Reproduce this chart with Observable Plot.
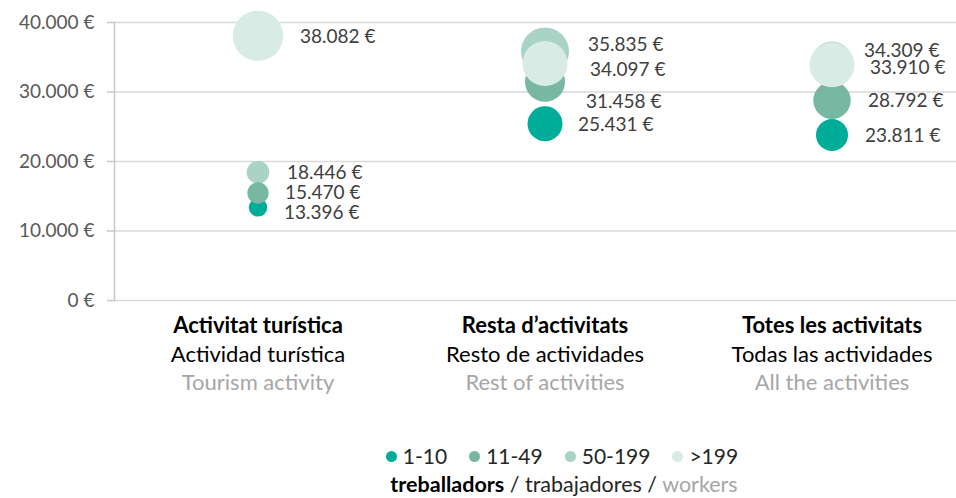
<!DOCTYPE html>
<html><head><meta charset="utf-8">
<script src="https://cdn.jsdelivr.net/npm/d3@7"></script>
<script src="https://cdn.jsdelivr.net/npm/@observablehq/plot@0.6"></script>
<style>
body{margin:0;background:#fff;font-family:Lato,"Open Sans",sans-serif;}
#chart svg{display:block;}
#legend{position:relative;height:58px;width:956px;}
#legend .row1{position:absolute;top:3px;left:0;width:956px;display:flex;justify-content:center;padding-left:190px;box-sizing:border-box;font-size:21px;color:#262626;line-height:26px;}
#legend .item{display:flex;align-items:center;margin-right:22px;}
#legend .sw{width:11px;height:11px;border-radius:50%;margin-right:6px;display:inline-block;}
#legend .row2{position:absolute;top:31px;left:0;width:956px;text-align:center;padding-left:172px;box-sizing:border-box;font-size:21.5px;color:#262626;line-height:26px;}
</style></head><body>
<div id="chart"></div>
<div id="legend"></div>
<script>
// ---- data ----
const categoriesCa = ["Activitat turística", "Resta d’activitats", "Totes les activitats"];
const categoriesEs = ["Actividad turística", "Resto de actividades", "Todas las actividades"];
const categoriesEn = ["Tourism activity", "Rest of activities", "All the activities"];
const sizeGroups = ["1-10", "11-49", "50-199", ">199"];
const salary_1_10     = [13396, 25431, 23811];
const salary_11_49    = [15470, 31458, 28792];
const salary_50_199   = [18446, 35835, 34309];
const salary_over199  = [38082, 34097, 33910];
// bubble size (third variable of the bubble chart, area units)
const bubble_1_10     = [85, 306, 256];
const bubble_11_49    = [114, 400, 350];
const bubble_50_199   = [128, 576, 420];
const bubble_over199  = [635, 506, 506];
const yTicks = [0, 10000, 20000, 30000, 40000];
const legendTitle = ["treballadors", "trabajadores", "workers"];

// ---- styling / layout ----
const colors = ["#00ad99", "#78b7a1", "#a9d3c5", "#d9ebe5"];
const drawOrder = ["1-10", "50-199", "11-49", ">199"];
const labelNudge = {
  "1-10":   [[26, 6], [33, 1], [33, 1]],
  "11-49":  [[27, 0], [41, 20], [36, 1]],
  "50-199": [[29, 1], [43, -7], [32, -11]],
  ">199":   [[42, 1], [45, 6], [38, 3]]
};

const salaries = [salary_1_10, salary_11_49, salary_50_199, salary_over199];
const bubbles = [bubble_1_10, bubble_11_49, bubble_50_199, bubble_over199];
const rows = [];
sizeGroups.forEach((g, gi) => {
  categoriesCa.forEach((c, ci) => {
    rows.push({cat: c, group: g, value: salaries[gi][ci], size: bubbles[gi][ci],
      dx: labelNudge[g][ci][0], dy: labelNudge[g][ci][1]});
  });
});
rows.sort((a, b) => drawOrder.indexOf(a.group) - drawOrder.indexOf(b.group));

const fmt = v => d3.format(",")(v).replace(/,/g, ".") + " €";

const chart = Plot.plot({
  width: 956,
  height: 440,
  marginLeft: 114,
  marginRight: 0,
  marginTop: 22,
  marginBottom: 140,
  style: {fontFamily: "Lato, 'Open Sans', sans-serif", background: "#fff"},
  x: {type: "band", domain: categoriesCa, range: [113.5, 974.5], padding: 0, axis: null},
  y: {domain: [0, 40000], axis: null},
  r: {type: "sqrt", domain: [0, 635], range: [0, 25.2]},
  color: {domain: sizeGroups, range: colors},
  marks: [
    Plot.gridY(yTicks, {stroke: "#d9d9d9", strokeOpacity: 1, strokeWidth: 1.5}),
    Plot.frame({anchor: "left", stroke: "#c8c8c8", strokeWidth: 1.5}),
    Plot.axisY(yTicks, {tickSize: 7, tickPadding: 13, stroke: "#c8c8c8", strokeWidth: 1.5,
      tickFormat: fmt, fontSize: 19, fill: "#595959", label: null}),
    Plot.dot(rows, {x: "cat", y: "value", r: "size", fill: "group", stroke: null, sort: null}),
    ...rows.map(d => Plot.text([d], {x: "cat", y: "value", text: d => fmt(d.value),
      dx: d.dx, dy: d.dy, textAnchor: "start", fontSize: 19, fill: "#404040"})),
    Plot.text(categoriesCa, {x: d => d, frameAnchor: "bottom", dy: 25, text: d => d,
      fontSize: 22, fontWeight: "bold", fill: "#000", lineAnchor: "middle"}),
    Plot.text(categoriesCa, {x: d => d, frameAnchor: "bottom", dy: 54,
      text: (d, i) => categoriesEs[i], fontSize: 22, fill: "#000", lineAnchor: "middle"}),
    Plot.text(categoriesCa, {x: d => d, frameAnchor: "bottom", dy: 82,
      text: (d, i) => categoriesEn[i], fontSize: 22, fill: "#a6a6a6", lineAnchor: "middle"})
  ]
});
document.getElementById("chart").appendChild(chart);

const leg = document.getElementById("legend");
const r1 = document.createElement("div");
r1.className = "row1";
sizeGroups.forEach((g, i) => {
  const it = document.createElement("span");
  it.className = "item";
  it.innerHTML = `<span class="sw" style="background:${colors[i]}"></span>${g}`;
  r1.appendChild(it);
});
leg.appendChild(r1);
const r2 = document.createElement("div");
r2.className = "row2";
r2.innerHTML = `<b style="color:#000">${legendTitle[0]}</b> / ${legendTitle[1]} / <span style="color:#a6a6a6">${legendTitle[2]}</span>`;
leg.appendChild(r2);
</script>
</body></html>
